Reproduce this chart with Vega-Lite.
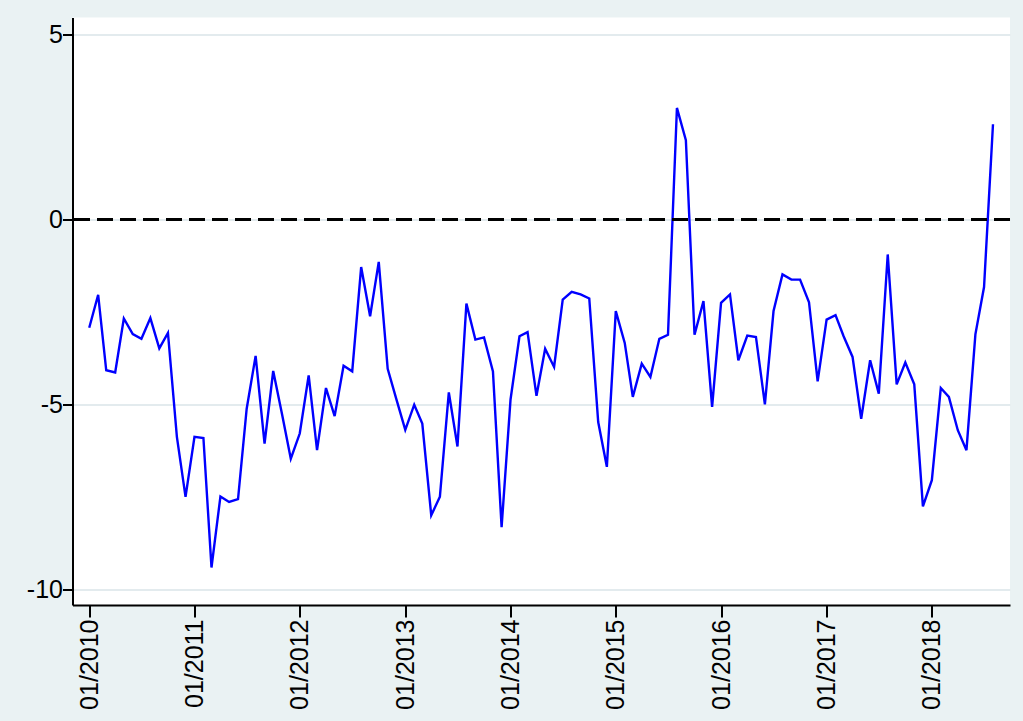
{
  "$schema": "https://vega.github.io/schema/vega-lite/v6.json",
  "autosize": "none",
  "width": 937.5,
  "height": 587.5,
  "padding": {"left": 72.5, "top": 17.5, "right": 13, "bottom": 116},
  "background": "#EAF2F3",
  "config": {
    "view": {"fill": "#FFFFFF", "stroke": null},
    "font": "Liberation Sans"
  },
  "data": {
    "values": [
      {"date": "2010-01-01", "value": -2.93}, {"date": "2010-02-01", "value": -2.04}, {"date": "2010-03-01", "value": -4.08}, {"date": "2010-04-01", "value": -4.14},
      {"date": "2010-05-01", "value": -2.68}, {"date": "2010-06-01", "value": -3.10}, {"date": "2010-07-01", "value": -3.23}, {"date": "2010-08-01", "value": -2.67},
      {"date": "2010-09-01", "value": -3.49}, {"date": "2010-10-01", "value": -3.07}, {"date": "2010-11-01", "value": -5.88}, {"date": "2010-12-01", "value": -7.50},
      {"date": "2011-01-01", "value": -5.88}, {"date": "2011-02-01", "value": -5.91}, {"date": "2011-03-01", "value": -9.41}, {"date": "2011-04-01", "value": -7.49},
      {"date": "2011-05-01", "value": -7.64}, {"date": "2011-06-01", "value": -7.56}, {"date": "2011-07-01", "value": -5.12}, {"date": "2011-08-01", "value": -3.69},
      {"date": "2011-09-01", "value": -6.06}, {"date": "2011-10-01", "value": -4.10}, {"date": "2011-11-01", "value": -5.28}, {"date": "2011-12-01", "value": -6.47},
      {"date": "2012-01-01", "value": -5.79}, {"date": "2012-02-01", "value": -4.22}, {"date": "2012-03-01", "value": -6.24}, {"date": "2012-04-01", "value": -4.56},
      {"date": "2012-05-01", "value": -5.32}, {"date": "2012-06-01", "value": -3.96}, {"date": "2012-07-01", "value": -4.11}, {"date": "2012-08-01", "value": -1.29},
      {"date": "2012-09-01", "value": -2.62}, {"date": "2012-10-01", "value": -1.15}, {"date": "2012-11-01", "value": -4.04}, {"date": "2012-12-01", "value": -4.86},
      {"date": "2013-01-01", "value": -5.69}, {"date": "2013-02-01", "value": -5.01}, {"date": "2013-03-01", "value": -5.52}, {"date": "2013-04-01", "value": -8.00},
      {"date": "2013-05-01", "value": -7.50}, {"date": "2013-06-01", "value": -4.68}, {"date": "2013-07-01", "value": -6.14}, {"date": "2013-08-01", "value": -2.28},
      {"date": "2013-09-01", "value": -3.25}, {"date": "2013-10-01", "value": -3.19}, {"date": "2013-11-01", "value": -4.11}, {"date": "2013-12-01", "value": -8.32},
      {"date": "2014-01-01", "value": -4.87}, {"date": "2014-02-01", "value": -3.16}, {"date": "2014-03-01", "value": -3.05}, {"date": "2014-04-01", "value": -4.77},
      {"date": "2014-05-01", "value": -3.50}, {"date": "2014-06-01", "value": -3.99}, {"date": "2014-07-01", "value": -2.17}, {"date": "2014-08-01", "value": -1.96},
      {"date": "2014-09-01", "value": -2.03}, {"date": "2014-10-01", "value": -2.14}, {"date": "2014-11-01", "value": -5.48}, {"date": "2014-12-01", "value": -6.69},
      {"date": "2015-01-01", "value": -2.48}, {"date": "2015-02-01", "value": -3.34}, {"date": "2015-03-01", "value": -4.80}, {"date": "2015-04-01", "value": -3.90},
      {"date": "2015-05-01", "value": -4.26}, {"date": "2015-06-01", "value": -3.23}, {"date": "2015-07-01", "value": -3.12}, {"date": "2015-08-01", "value": 3.01},
      {"date": "2015-09-01", "value": 2.14}, {"date": "2015-10-01", "value": -3.12}, {"date": "2015-11-01", "value": -2.21}, {"date": "2015-12-01", "value": -5.07},
      {"date": "2016-01-01", "value": -2.26}, {"date": "2016-02-01", "value": -2.03}, {"date": "2016-03-01", "value": -3.81}, {"date": "2016-04-01", "value": -3.14},
      {"date": "2016-05-01", "value": -3.18}, {"date": "2016-06-01", "value": -5.00}, {"date": "2016-07-01", "value": -2.48}, {"date": "2016-08-01", "value": -1.49},
      {"date": "2016-09-01", "value": -1.63}, {"date": "2016-10-01", "value": -1.63}, {"date": "2016-11-01", "value": -2.24}, {"date": "2016-12-01", "value": -4.38},
      {"date": "2017-01-01", "value": -2.71}, {"date": "2017-02-01", "value": -2.59}, {"date": "2017-03-01", "value": -3.16}, {"date": "2017-04-01", "value": -3.72},
      {"date": "2017-05-01", "value": -5.39}, {"date": "2017-06-01", "value": -3.81}, {"date": "2017-07-01", "value": -4.71}, {"date": "2017-08-01", "value": -0.95},
      {"date": "2017-09-01", "value": -4.46}, {"date": "2017-10-01", "value": -3.87}, {"date": "2017-11-01", "value": -4.46}, {"date": "2017-12-01", "value": -7.76},
      {"date": "2018-01-01", "value": -7.05}, {"date": "2018-02-01", "value": -4.56}, {"date": "2018-03-01", "value": -4.80}, {"date": "2018-04-01", "value": -5.70},
      {"date": "2018-05-01", "value": -6.24}, {"date": "2018-06-01", "value": -3.11}, {"date": "2018-07-01", "value": -1.83}, {"date": "2018-08-01", "value": 2.57}
    ]
  },
  "encoding": {
    "x": {
      "field": "date",
      "type": "temporal",
      "scale": {"type": "utc", "domain": [{"year": 2009, "month": 11, "date": 4, "utc": true}, {"year": 2018, "month": 9, "date": 29, "utc": true}]},
      "axis": {
        "title": null,
        "values": [
          {"year": 2010, "month": 1, "date": 1, "utc": true},
          {"year": 2011, "month": 1, "date": 1, "utc": true},
          {"year": 2012, "month": 1, "date": 1, "utc": true},
          {"year": 2013, "month": 1, "date": 1, "utc": true},
          {"year": 2014, "month": 1, "date": 1, "utc": true},
          {"year": 2015, "month": 1, "date": 1, "utc": true},
          {"year": 2016, "month": 1, "date": 1, "utc": true},
          {"year": 2017, "month": 1, "date": 1, "utc": true},
          {"year": 2018, "month": 1, "date": 1, "utc": true}
        ],
        "labelExpr": "utcFormat(datum.value, '%m/%Y')",
        "labelAngle": -90,
        "labelAlign": "right",
        "labelBaseline": "middle",
        "labelFontSize": 25,
        "labelColor": "#000000",
        "labelPadding": 2,
        "labelFlush": false,
        "labelOverlap": false,
        "grid": false,
        "domainColor": "#000000",
        "domainWidth": 2,
        "tickColor": "#000000",
        "tickWidth": 2,
        "tickSize": 12
      }
    },
    "y": {
      "field": "value",
      "type": "quantitative",
      "scale": {"domain": [-10.424, 5.454], "nice": false, "zero": false},
      "axis": {
        "title": null,
        "values": [-10, -5, 0, 5],
        "labelExpr": "'' + datum.value",
        "labelFontSize": 25,
        "labelColor": "#000000",
        "labelPadding": 0,
        "labelFlush": false,
        "grid": true,
        "gridColor": "#E3EBEE",
        "gridWidth": 2,
        "domainColor": "#000000",
        "domainWidth": 2,
        "tickColor": "#000000",
        "tickWidth": 2,
        "tickSize": 10
      }
    }
  },
  "layer": [
    {
      "mark": {"type": "line", "color": "#0000FF", "strokeWidth": 2.4, "clip": true}
    },
    {
      "mark": {"type": "rule", "color": "#000000", "strokeWidth": 2, "strokeDash": [16, 7]},
      "encoding": {"y": {"datum": 0}, "x": null}
    }
  ]
}
